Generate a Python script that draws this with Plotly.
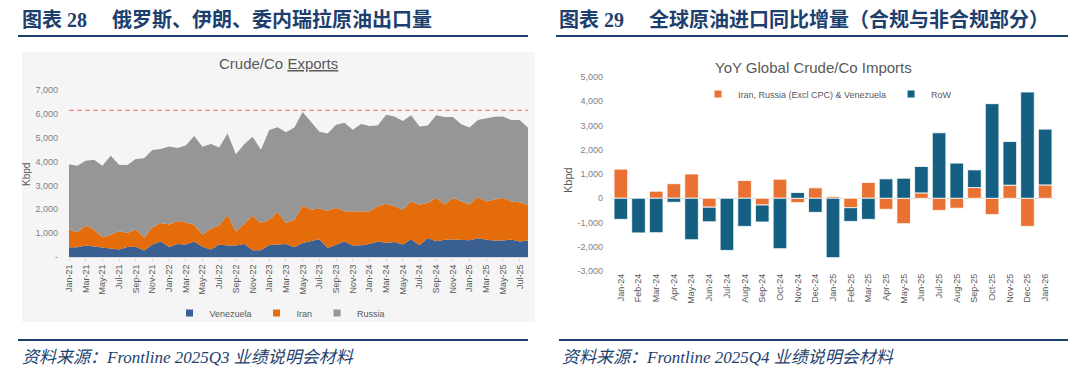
import plotly.graph_objects as go
import pandas as pd

W, H = 1080, 383


def px(x):
    return x / W


def py(y):
    return 1 - y / H


# ---------------- Data: Crude/Co Exports (Kbpd) ----------------
months = pd.date_range("2021-01-01", periods=56, freq="MS").strftime("%b-%y").tolist()

venezuela = [410, 410, 480, 430, 410, 350, 310, 420, 430, 270, 520, 650,
             420, 550, 520, 650, 430, 310, 520, 480, 480, 550, 280, 280,
             500, 520, 550, 410, 590, 670, 740, 380, 520, 650, 480, 490,
             550, 650, 600, 630, 520, 740, 490, 800, 660, 720, 730, 700,
             700, 790, 720, 690, 690, 730, 650, 690]
iran = [730, 630, 840, 710, 420, 580, 770, 590, 730, 540, 730, 770,
        940, 960, 940, 700, 500, 870, 800, 1290, 590, 840, 1450, 1150,
        1060, 1370, 880, 1150, 1560, 1320, 1280, 1560, 1540, 1270, 1440, 1430,
        1360, 1480, 1630, 1500, 1460, 1600, 1700, 1470, 1820, 1480, 1740, 1640,
        1500, 1720, 1610, 1720, 1790, 1600, 1640, 1480]
russia = [2750, 2780, 2710, 2940, 2990, 3310, 2790, 2850, 2950, 3330, 3230, 3110,
          3270, 3060, 3210, 3720, 3690, 3560, 3270, 3410, 3240, 3340, 3310, 3070,
          3760, 3550, 3800, 3870, 3930, 3660, 3230, 3240, 3480, 3710, 3410, 3660,
          3580, 3380, 3730, 3760, 3720, 3600, 3280, 3240, 3460, 3670, 3400, 3220,
          3230, 3230, 3470, 3470, 3410, 3410, 3450, 3250]
threshold = 6150
exp_ticks = [0, 1000, 2000, 3000, 4000, 5000, 6000, 7000]
exp_ticktext = ["-", "1,000", "2,000", "3,000", "4,000", "5,000", "6,000", "7,000"]

# ---------------- Data: YoY Global Crude/Co Imports (Kbpd) ----------------
imp_months = pd.date_range("2024-01-01", periods=25, freq="MS").strftime("%b-%y").tolist()
sanctioned = [1200, 0, 290, 600, 1000, -370, 0, 730, -280, 785, -180, 430,
              70, -390, 650, -455, -1050, 220, -500, -410, 440, -675, 540, -1160, 550]
row = [-870, -1430, -1420, -165, -1710, -600, -2150, -1160, -700, -2080, 235, -580,
       -2450, -565, -870, 800, 825, 1090, 2700, 1450, 730, 3900, 1800, 4380, 2300]
imp_ticks = [-3000, -2000, -1000, 0, 1000, 2000, 3000, 4000, 5000]
imp_ticktext = [f"{v:,}" for v in imp_ticks]

# ---------------- Style ----------------
NAVY = "#1D3F6E"
TXT = "#595959"
TICK = "#808080"
CHART_FONT = "Liberation Sans, Arial, sans-serif"
TITLE_FONT = "Liberation Serif, Times New Roman, Noto Sans CJK SC, serif"

fig = go.Figure()

exp_series = [("Venezuela", venezuela, "#3A5F91"),
              ("Iran", iran, "#E46C0A"),
              ("Russia", russia, "#969696")]
for name, vals, color in exp_series:
    fig.add_trace(go.Scatter(
        x=months, y=vals, name=name, mode="lines", stackgroup="exp",
        line=dict(width=0, color=color), fillcolor=color,
        showlegend=False, xaxis="x", yaxis="y"))
# legend keys (small squares)
for name, vals, color in exp_series:
    fig.add_trace(go.Scatter(
        x=[None], y=[None], name=name, mode="markers",
        marker=dict(symbol="square", size=7, color=color),
        xaxis="x", yaxis="y", legend="legend"))

fig.add_trace(go.Scatter(
    x=[months[0], months[-1]], y=[threshold, threshold], mode="lines",
    line=dict(color="#FF7C80", width=1.2, dash="5px,3px"),
    showlegend=False, xaxis="x", yaxis="y"))

imp_series = [("Iran, Russia (Excl CPC) & Venezuela", sanctioned, "#E97132"),
              ("RoW", row, "#156082")]
for name, vals, color in imp_series:
    fig.add_trace(go.Bar(
        x=imp_months, y=vals, name=name,
        marker=dict(color=color, line=dict(color="white", width=0.8)),
        showlegend=False, xaxis="x2", yaxis="y2"))
for name, vals, color in imp_series:
    fig.add_trace(go.Scatter(
        x=[None], y=[None], name=name, mode="markers",
        marker=dict(symbol="square", size=7, color=color),
        xaxis="x2", yaxis="y2", legend="legend2"))

fig.update_layout(
    width=W, height=H, autosize=False,
    margin=dict(l=0, r=0, t=0, b=0),
    paper_bgcolor="white", plot_bgcolor="rgba(0,0,0,0)",
    font=dict(family=CHART_FONT, color=TXT, size=9),
    barmode="relative", bargap=0.23,
    xaxis=dict(domain=[px(69), px(528)], anchor="y", type="category",
               range=[0, len(months) - 1], tickvals=months[::2], tickangle=-90,
               tickfont=dict(size=9, color=TXT), showgrid=False, zeroline=False,
               showline=True, linecolor="#d9d9d9", linewidth=1,
               ticks="outside", ticklen=3, tickcolor="#d9d9d9", automargin=False),
    yaxis=dict(domain=[py(257), py(90)], anchor="x", range=[0, 7000],
               tickvals=exp_ticks, ticktext=exp_ticktext,
               tickfont=dict(size=9, color=TICK), showgrid=False, zeroline=False,
               showline=False, ticks="", ticklabelstandoff=10, automargin=False),
    xaxis2=dict(domain=[px(612), px(1054)], anchor="y2", type="category",
                tickangle=-90, tickfont=dict(size=9, color=TXT), showgrid=False,
                zeroline=False, showline=False, ticks="", automargin=False,
                ticklabelstandoff=0),
    yaxis2=dict(domain=[py(271), py(77)], anchor="x2", range=[-3000, 5000],
                tickvals=imp_ticks, ticktext=imp_ticktext,
                tickfont=dict(size=9, color=TICK), showgrid=False,
                zeroline=True, zerolinecolor="#d9d9d9", zerolinewidth=1,
                showline=False, ticks="", ticklabelstandoff=8, automargin=False),
    legend=dict(orientation="h", x=px(280), y=py(313), xanchor="center",
                yanchor="middle", font=dict(size=9, color=TXT),
                bgcolor="rgba(0,0,0,0)", itemwidth=30, traceorder="normal"),
    legend2=dict(orientation="h", x=px(698), y=py(94), xanchor="left",
                 yanchor="middle", font=dict(size=9, color=TXT),
                 bgcolor="rgba(0,0,0,0)", itemwidth=30, traceorder="normal"),
)

shapes = [
    dict(type="rect", xref="paper", yref="paper", x0=px(22), x1=px(535),
         y0=py(322), y1=py(52), fillcolor="#f5f5f5", line=dict(width=0), layer="below"),
    dict(type="line", xref="paper", yref="paper", x0=px(18), x1=px(528),
         y0=py(36), y1=py(36), line=dict(color=NAVY, width=2)),
    dict(type="line", xref="paper", yref="paper", x0=px(556), x1=px(1068),
         y0=py(36), y1=py(36), line=dict(color=NAVY, width=2)),
    dict(type="line", xref="paper", yref="paper", x0=px(18), x1=px(528),
         y0=py(340), y1=py(340), line=dict(color=NAVY, width=2)),
    dict(type="line", xref="paper", yref="paper", x0=px(559), x1=px(1068),
         y0=py(340), y1=py(340), line=dict(color=NAVY, width=2)),
]
fig.update_layout(shapes=shapes)

ann = [
    dict(text="<b>图表 28　 俄罗斯、伊朗、委内瑞拉原油出口量</b>", x=px(20), y=py(19),
         xanchor="left", yanchor="middle",
         font=dict(family=TITLE_FONT, size=20, color=NAVY)),
    dict(text="<b>图表 29　 全球原油进口同比增量（合规与非合规部分）</b>", x=px(557), y=py(19),
         xanchor="left", yanchor="middle",
         font=dict(family=TITLE_FONT, size=20, color=NAVY)),
    dict(text="<i>资料来源：Frontline 2025Q3 业绩说明会材料</i>", x=px(20), y=py(357),
         xanchor="left", yanchor="middle",
         font=dict(family=TITLE_FONT, size=17, color=NAVY)),
    dict(text="<i>资料来源：Frontline 2025Q4 业绩说明会材料</i>", x=px(560), y=py(357),
         xanchor="left", yanchor="middle",
         font=dict(family=TITLE_FONT, size=17, color=NAVY)),
    dict(text="Crude/Co <u>Exports</u>", x=px(278), y=py(63), xanchor="center",
         yanchor="middle", font=dict(family="Liberation Sans, Arial", size=15, color=TXT)),
    dict(text="YoY Global Crude/Co Imports", x=px(813), y=py(67), xanchor="center",
         yanchor="middle", font=dict(family="Liberation Sans, Arial", size=15, color=TXT)),
    dict(text="Kbpd", x=px(27), y=py(175), textangle=-90, xanchor="center",
         yanchor="middle", font=dict(size=10, color=TXT)),
    dict(text="Kbpd", x=px(568), y=py(180), textangle=-90, xanchor="center",
         yanchor="middle", font=dict(size=11, color=TXT)),
]
for a in ann:
    a.update(xref="paper", yref="paper", showarrow=False)
fig.update_layout(annotations=ann)

fig.write_html("out.html",
               config={"displayModeBar": False},
               post_script="document.body.style.margin='0';document.body.style.overflow='hidden';")
